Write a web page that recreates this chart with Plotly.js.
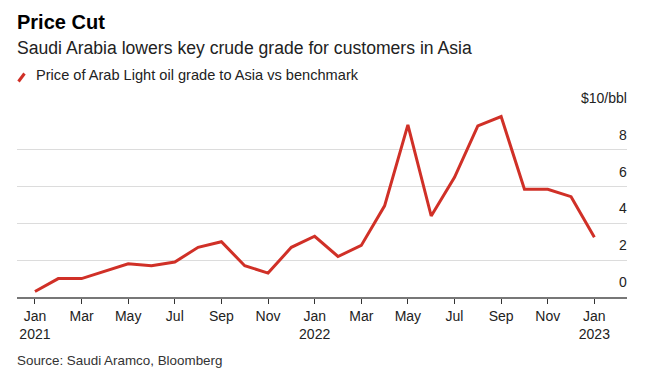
<!DOCTYPE html>
<html><head><meta charset="utf-8">
<script src="https://cdn.plot.ly/plotly-3.0.1.min.js"></script>
<style>html,body{margin:0;padding:0;background:#fff}#c{width:648px;height:383px}</style>
</head><body><div id="c"></div>
<script>
const months = ["2021-01","2021-02","2021-03","2021-04","2021-05","2021-06","2021-07","2021-08","2021-09","2021-10","2021-11","2021-12",
  "2022-01","2022-02","2022-03","2022-04","2022-05","2022-06","2022-07","2022-08","2022-09","2022-10","2022-11","2022-12","2023-01"];
const premium = [0.3,1.0,1.0,1.4,1.8,1.7,1.9,2.7,3.0,1.7,1.3,2.7,3.3,2.2,2.8,4.95,9.35,4.4,6.5,9.3,9.8,5.85,5.85,5.45,3.25];
const xTickVals = ["2021-01","2021-03","2021-05","2021-07","2021-09","2021-11","2022-01","2022-03","2022-05","2022-07","2022-09","2022-11","2023-01"];
const xTickText = ["Jan<br>2021","Mar","May","Jul","Sep","Nov","Jan<br>2022","Mar","May","Jul","Sep","Nov","Jan<br>2023"];
const yTickVals = [0,2,4,6,8,10];
const yTickText = ["0","2","4","6","8","$10/bbl"];

const W=648,H=383, L=17, R=21, T=112, B=86;
const pw=W-L-R, ph=H-T-B;
const px=x=>(x-L)/pw, py=y=>(H-B-y)/ph;
const FONT="Liberation Sans, Arial, sans-serif";
const RED="#d03027";

const trace={x:months,y:premium,type:"scatter",mode:"lines",
  line:{color:RED,width:3},hoverinfo:"skip",showlegend:false};

const yLabelAnns = yTickVals.map((v,i)=>({xref:"paper",yref:"y",x:px(629),y:v,xanchor:"right",yanchor:"middle",
  yshift:15,showarrow:false,text:yTickText[i],font:{size:14,color:"#222",family:FONT}}));

const layout={
  width:W,height:H,margin:{l:L,r:R,t:T,b:B},
  paper_bgcolor:"#fff",plot_bgcolor:"#fff",
  font:{family:FONT,color:"#222",size:14},
  xaxis:{type:"category",range:[-0.77,25.4],tickmode:"array",tickvals:xTickVals,ticktext:xTickText,
    showgrid:false,zeroline:false,showline:true,linecolor:"#777",linewidth:2,
    ticks:"outside",ticklen:5,tickcolor:"#333",tickwidth:1,
    tickfont:{size:14,color:"#222",family:FONT}},
  yaxis:{range:[0,10.05],tickmode:"array",tickvals:yTickVals,showticklabels:false,
    ticks:"",showline:false,zeroline:false,gridcolor:"#dcdcdc",gridwidth:1,fixedrange:true},
  shapes:[{type:"line",xref:"paper",yref:"paper",x0:px(18.5),y0:py(81.5),x1:px(24.5),y1:py(73.5),
    line:{color:RED,width:3}}],
  annotations:[
    {xref:"paper",yref:"paper",x:px(15),y:py(22),xanchor:"left",yanchor:"middle",showarrow:false,
      text:"<b>Price Cut</b>",font:{size:20,color:"#000",family:FONT}},
    {xref:"paper",yref:"paper",x:px(15),y:py(48),xanchor:"left",yanchor:"middle",showarrow:false,
      text:"Saudi Arabia lowers key crude grade for customers in Asia",font:{size:17.6,color:"#222",family:FONT}},
    {xref:"paper",yref:"paper",x:px(34),y:py(75),xanchor:"left",yanchor:"middle",showarrow:false,
      text:"Price of Arab Light oil grade to Asia vs benchmark",font:{size:14.6,color:"#222",family:FONT}},
    {xref:"paper",yref:"paper",x:px(15),y:py(360),xanchor:"left",yanchor:"middle",showarrow:false,
      text:"Source: Saudi Aramco, Bloomberg",font:{size:13.4,color:"#333",family:FONT}}
  ].concat(yLabelAnns)
};
Plotly.newPlot("c",[trace],layout,{staticPlot:true,displayModeBar:false});
</script></body></html>
